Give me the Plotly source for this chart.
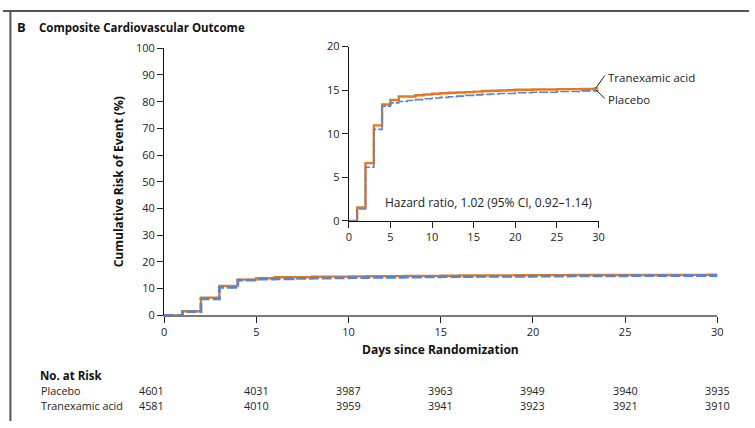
import plotly.graph_objects as go

W, H = 755, 428

# Kaplan-Meier style cumulative incidence, read day by day
txa_days = [0, 1, 2, 3, 4, 5, 6, 7, 8, 9, 10, 11, 12, 13, 14, 15, 16, 17, 18, 19, 20, 22, 25, 28, 29.5, 30]
txa_risk = [0, 1.55, 6.64, 10.96, 13.36, 13.87, 14.28, 14.28, 14.42, 14.5, 14.6, 14.65, 14.7, 14.74, 14.78,
            14.83, 14.9, 14.93, 14.96, 15.0, 15.05, 15.08, 15.12, 15.15, 15.2, 15.2]

pbo_days = [0, 1, 2, 3, 4, 5, 6, 7, 8, 9, 10, 11, 12, 13, 14, 15, 16, 17, 18, 20, 22, 25, 28, 30]
pbo_risk = [0, 1.37, 6.16, 10.5, 13.17, 13.54, 13.7, 13.82, 13.92, 14.02, 14.1, 14.18, 14.25, 14.32, 14.4,
            14.46, 14.52, 14.57, 14.62, 14.7, 14.76, 14.85, 14.92, 14.98]

main_xticks = [0, 5, 10, 15, 20, 25, 30]
main_yticks = [0, 10, 20, 30, 40, 50, 60, 70, 80, 90, 100]
inset_xticks = [0, 5, 10, 15, 20, 25, 30]
inset_yticks = [0, 5, 10, 15, 20]

risk_days = [0, 5, 10, 15, 20, 25, 30]
at_risk_placebo = [4601, 4031, 3987, 3963, 3949, 3940, 3935]
at_risk_txa = [4581, 4010, 3959, 3941, 3923, 3921, 3910]

title_text = "Composite Cardiovascular Outcome"
panel_letter = "B"
hr_text = "Hazard ratio, 1.02 (95% CI, 0.92\u20131.14)"

ORANGE = "#E57920"
BLUE = "#5A83CC"
FONT = "Open Sans"
TXT = "#222222"


def px(x):
    return x / W


def py(y):
    return 1 - y / H


fig = go.Figure()

# main panel
fig.add_trace(go.Scatter(x=txa_days, y=txa_risk, mode="lines", line_shape="hv",
                         line=dict(color=ORANGE, width=2.4), xaxis="x", yaxis="y",
                         name="Tranexamic acid", showlegend=False, hoverinfo="skip"))
fig.add_trace(go.Scatter(x=pbo_days, y=pbo_risk, mode="lines", line_shape="hv",
                         line=dict(color=BLUE, width=2.8, dash="10px,3px"), xaxis="x", yaxis="y",
                         name="Placebo", showlegend=False, hoverinfo="skip"))
# inset
fig.add_trace(go.Scatter(x=txa_days, y=txa_risk, mode="lines", line_shape="hv",
                         line=dict(color=ORANGE, width=2.4), xaxis="x2", yaxis="y2",
                         showlegend=False, hoverinfo="skip"))
fig.add_trace(go.Scatter(x=pbo_days, y=pbo_risk, mode="lines", line_shape="hv",
                         line=dict(color=BLUE, width=1.6, dash="9px,2px"), xaxis="x2", yaxis="y2",
                         showlegend=False, hoverinfo="skip"))

tickfont = dict(family=FONT, size=11, color=TXT)

fig.update_layout(
    width=W, height=H,
    margin=dict(l=0, r=0, t=0, b=0),
    paper_bgcolor="white", plot_bgcolor="rgba(0,0,0,0)",
    font=dict(family=FONT, color=TXT),
    xaxis=dict(domain=[px(163), px(723)], range=[0, 30], tickvals=main_xticks,
               showgrid=False, zeroline=False, showline=True, linecolor="#7a7a7a", linewidth=1.6,
               ticks="outside", ticklen=6, tickwidth=1.2, tickcolor="#222", tickfont=tickfont,
               anchor="y", fixedrange=True),
    yaxis=dict(domain=[py(318.5), py(41.7)], range=[0, 100], tickvals=main_yticks,
               showgrid=False, zeroline=False, showline=True, linecolor="#111", linewidth=1.2,
               ticks="outside", ticklen=6, tickwidth=1.2, tickcolor="#222", tickfont=tickfont,
               anchor="x", fixedrange=True),
    xaxis2=dict(domain=[px(350), px(602.7)], range=[0, 30], tickvals=inset_xticks,
                showgrid=False, zeroline=False, showline=True, linecolor="#111", linewidth=1.2,
                ticks="outside", ticklen=6, tickwidth=1.2, tickcolor="#222", tickfont=tickfont,
                anchor="y2", fixedrange=True),
    yaxis2=dict(domain=[py(220.7), py(40)], range=[0, 20], tickvals=inset_yticks,
                showgrid=False, zeroline=False, showline=True, linecolor="#111", linewidth=1.2,
                ticks="outside", ticklen=6, tickwidth=1.2, tickcolor="#222", tickfont=tickfont,
                anchor="x2", fixedrange=True),
)

ann = []
# panel title
ann.append(dict(text=f"<b>{panel_letter}</b>", x=px(12), y=py(20), xref="paper", yref="paper",
                xanchor="left", yanchor="middle", showarrow=False, font=dict(size=13, family=FONT, color="#111")))
ann.append(dict(text=f"<b>{title_text}</b>", x=px(34), y=py(20), xref="paper", yref="paper",
                xanchor="left", yanchor="middle", showarrow=False, font=dict(size=11.5, family=FONT, color="#111")))
# axis titles
ann.append(dict(text="<b>Cumulative Risk of Event (%)</b>", x=px(117), y=py(180), xref="paper", yref="paper",
                textangle=-90, xanchor="center", yanchor="middle", showarrow=False,
                font=dict(size=12, family=FONT, color="#111")))
ann.append(dict(text="<b>Days since Randomization</b>", x=px(443), y=py(354), xref="paper", yref="paper",
                xanchor="center", yanchor="middle", showarrow=False,
                font=dict(size=12, family=FONT, color="#111")))
# hazard ratio
ann.append(dict(text=hr_text, x=px(491), y=py(201.5), xref="paper", yref="paper",
                xanchor="center", yanchor="middle", showarrow=False,
                font=dict(size=12, family=FONT, color=TXT)))
# series labels in inset
ann.append(dict(text="Tranexamic acid", x=px(610), y=py(71.7), xref="paper", yref="paper",
                xanchor="left", yanchor="middle", showarrow=False, font=dict(size=11.5, family=FONT, color=TXT)))
ann.append(dict(text="Placebo", x=px(610), y=py(95), xref="paper", yref="paper",
                xanchor="left", yanchor="middle", showarrow=False, font=dict(size=11.5, family=FONT, color=TXT)))

# number at risk table
ann.append(dict(text="<b>No. at Risk</b>", x=px(35), y=py(380.5), xref="paper", yref="paper",
                xanchor="left", yanchor="middle", showarrow=False, font=dict(size=11.5, family=FONT, color="#111")))
ann.append(dict(text="Placebo", x=px(36), y=py(396.5), xref="paper", yref="paper",
                xanchor="left", yanchor="middle", showarrow=False, font=dict(size=10.8, family=FONT, color=TXT)))
ann.append(dict(text="Tranexamic acid", x=px(36), y=py(412), xref="paper", yref="paper",
                xanchor="left", yanchor="middle", showarrow=False, font=dict(size=10.8, family=FONT, color=TXT)))
for i, d in enumerate(risk_days):
    shift = -13 if i == 0 else 0
    ann.append(dict(text=str(at_risk_placebo[i]), x=d, y=py(396.5), xref="x", yref="paper",
                    xanchor="center", yanchor="middle", xshift=shift, showarrow=False,
                    font=dict(size=10.8, family=FONT, color=TXT)))
    ann.append(dict(text=str(at_risk_txa[i]), x=d, y=py(412), xref="x", yref="paper",
                    xanchor="center", yanchor="middle", xshift=shift, showarrow=False,
                    font=dict(size=10.8, family=FONT, color=TXT)))

fig.update_layout(annotations=ann)

shapes = []
# panel frame (top rule and left rule)
shapes.append(dict(type="line", xref="paper", yref="paper", x0=0, x1=1, y0=py(3), y1=py(3),
                   line=dict(color="#555", width=2)))
shapes.append(dict(type="line", xref="paper", yref="paper", x0=px(7.5), x1=px(7.5), y0=py(2), y1=0,
                   line=dict(color="#555", width=2)))
# leader lines to the inset labels
shapes.append(dict(type="line", xref="paper", yref="paper", x0=px(600), y0=py(83), x1=px(609), y1=py(70),
                   line=dict(color="#222", width=1)))
shapes.append(dict(type="line", xref="paper", yref="paper", x0=px(600), y0=py(85), x1=px(609), y1=py(93.5),
                   line=dict(color="#222", width=1)))
fig.update_layout(shapes=shapes)

fig.write_html("out.html")
